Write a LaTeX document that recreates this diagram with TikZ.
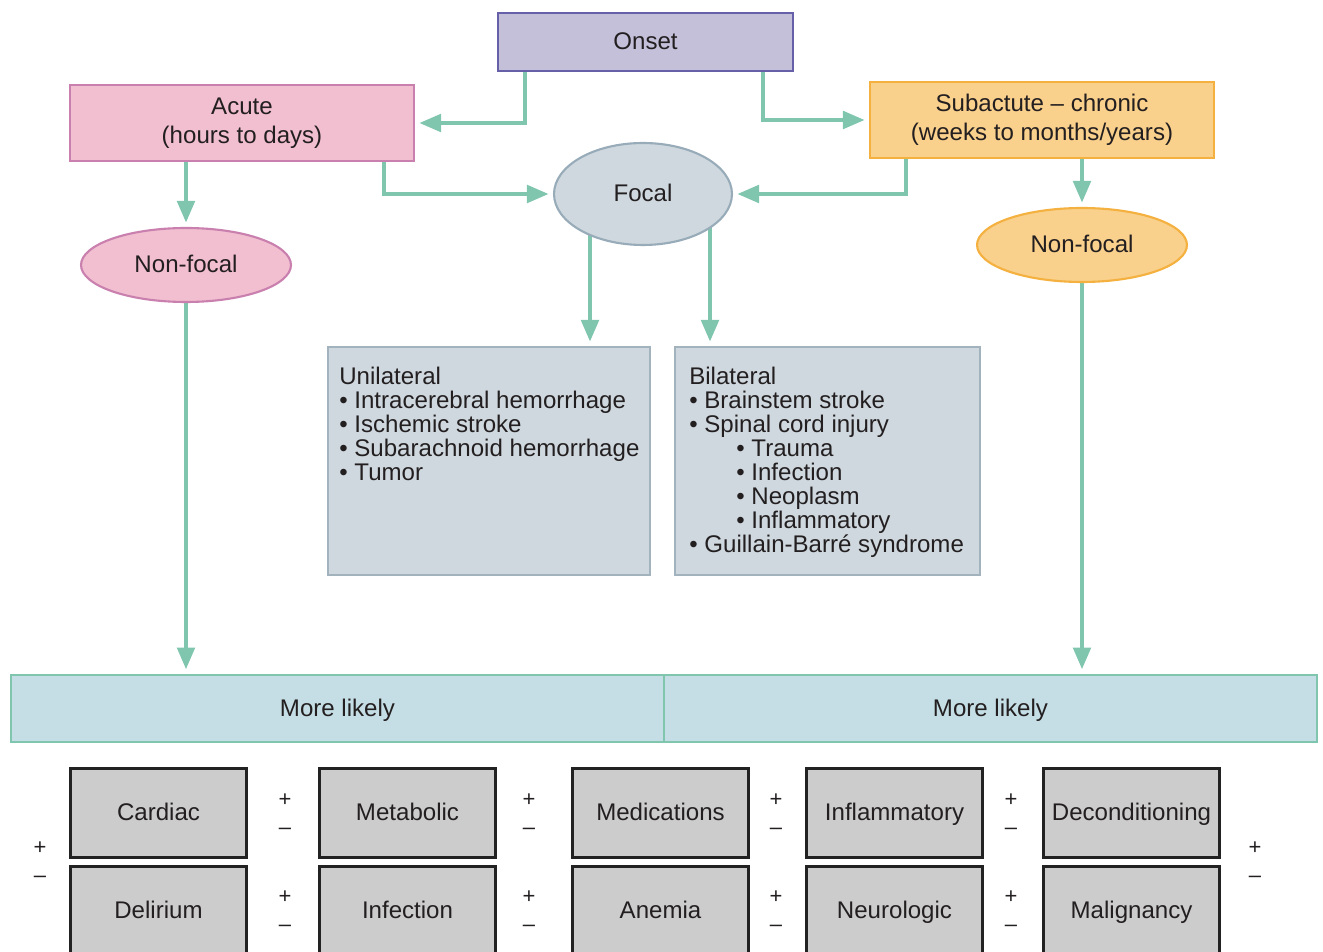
\documentclass[tikz,border=0pt]{standalone}
\usepackage{fontspec}
\setmainfont{Liberation Sans}
\usetikzlibrary{shapes.geometric,arrows.meta,calc,backgrounds}
\definecolor{flowgreen}{HTML}{80C6AF}
\definecolor{inktext}{HTML}{231F20}
\definecolor{onsetfill}{HTML}{C4C0DA}
\definecolor{onsetline}{HTML}{6660A8}
\definecolor{acutefill}{HTML}{F2BFD0}
\definecolor{acuteline}{HTML}{C980AE}
\definecolor{chronfill}{HTML}{F9D08C}
\definecolor{chronline}{HTML}{F4B13F}
\definecolor{focalfill}{HTML}{CFD8DE}
\definecolor{focalline}{HTML}{97ABB9}
\definecolor{listline}{HTML}{A2B3BE}
\definecolor{likelyfill}{HTML}{C5DEE5}
\definecolor{causefill}{HTML}{CCCCCC}
\definecolor{causeline}{HTML}{222222}
\tikzset{
  basic/.style={inner sep=0pt, align=center, text=inktext, font=\fontsize{13.7}{16.4}\selectfont},
  oneline/.style={text height=1.9ex, text depth=0.25ex},
  onsetbox/.style={basic, oneline, draw=onsetline, fill=onsetfill, line width=1.2pt, minimum width=5.9cm, minimum height=1.16cm},
  acutebox/.style={basic, draw=acuteline, fill=acutefill, line width=1.2pt, minimum width=6.88cm, minimum height=1.52cm},
  chronbox/.style={basic, draw=chronline, fill=chronfill, line width=1.2pt, minimum width=6.88cm, minimum height=1.52cm},
  blob/.style={basic, oneline, ellipse, line width=1.2pt, minimum width=4.2cm, minimum height=1.48cm},
  listbox/.style={draw=listline, fill=focalfill, line width=1.2pt, minimum height=4.56cm, inner sep=0pt},
  listtext/.style={basic, align=left, font=\fontsize{13.7}{13.66}\selectfont},
  likely/.style={basic, oneline, draw=flowgreen, fill=likelyfill, line width=1.6pt, minimum width=13.06cm, minimum height=1.34cm},
  cause/.style={basic, oneline, draw=causeline, fill=causefill, line width=1.7pt, minimum width=3.54cm, minimum height=1.8cm},
  pm/.style={basic, font=\fontsize{12.5}{15.9}\selectfont},
  flow/.style={draw=flowgreen, line width=2.8pt, -{Triangle[length=0.44cm,width=0.34cm]}, shorten >=0.08cm},
}

\begin{document}
\begin{tikzpicture}[x=0.02cm, y=-0.02cm]
	% frame
	\useasboundingbox (0,0) rectangle (1323,952);
	\clip (0,0) rectangle (1323,952);

	% onset
	\node[onsetbox] (onset) at (645.5,42) {Onset};
	\node[acutebox] (acute) at (242,123) {Acute\\(hours to days)};
	\node[chronbox] (chron) at (1042,120) {Subactute -- chronic\\(weeks to months/years)};

	% focal / non-focal
	\node[blob, draw=focalline, fill=focalfill, minimum width=3.56cm, minimum height=2.04cm] (focal) at (643,194) {Focal};
	\node[blob, draw=acuteline, fill=acutefill] (nfleft) at (186,265) {Non-focal};
	\node[blob, draw=chronline, fill=chronfill] (nfright) at (1082,245) {Non-focal};

	% lists
	\node[listbox, minimum width=6.44cm] (unil) at (489,461) {};
	\node[listtext, anchor=north west] (uniltext) at ($(unil.north west)+(12,21)$) {Unilateral\\
		\textbullet\ Intracerebral hemorrhage\\
		\textbullet\ Ischemic stroke\\
		\textbullet\ Subarachnoid hemorrhage\\
		\textbullet\ Tumor};
	\node[listbox, minimum width=6.1cm] (bil) at (827.5,461) {};
	\node[listtext, anchor=north west] (biltext) at ($(bil.north west)+(15,21)$) {Bilateral\\
		\textbullet\ Brainstem stroke\\
		\textbullet\ Spinal cord injury\\
		\hspace{0.94cm}\textbullet\ Trauma\\
		\hspace{0.94cm}\textbullet\ Infection\\
		\hspace{0.94cm}\textbullet\ Neoplasm\\
		\hspace{0.94cm}\textbullet\ Inflammatory\\
		\textbullet\ Guillain-Barré syndrome};

	% more likely
	\node[likely] (likelyleft) at (337.5,708.5) {More likely};
	\node[likely] (likelyright) at (990.5,708.5) {More likely};

	% causes
	\node[cause] (cardiac) at (158.5,813) {Cardiac};
	\node[cause] (metabolic) at (407.5,813) {Metabolic};
	\node[cause] (meds) at (660.5,813) {Medications};
	\node[cause] (inflam) at (894.5,813) {Inflammatory};
	\node[cause] (decond) at (1131.5,813) {Deconditioning};
	\node[cause] (delirium) at (158.5,911) {Delirium};
	\node[cause] (infect) at (407.5,911) {Infection};
	\node[cause] (anemia) at (660.5,911) {Anemia};
	\node[cause] (neuro) at (894.5,911) {Neurologic};
	\node[cause] (malig) at (1131.5,911) {Malignancy};

	% plus / minus
	\node[pm] (pmleft) at (40,862) {+\\--};
	\node[pm] (pmright) at (1255,862) {+\\--};
	\node[pm] (pma) at (285,814) {+\\--};
	\node[pm] (pmb) at (529,814) {+\\--};
	\node[pm] (pmc) at (776,814) {+\\--};
	\node[pm] (pmd) at (1011,814) {+\\--};
	\node[pm] (pme) at (285,911) {+\\--};
	\node[pm] (pmf) at (529,911) {+\\--};
	\node[pm] (pmg) at (776,911) {+\\--};
	\node[pm] (pmh) at (1011,911) {+\\--};

	% arrows
	\coordinate (fl) at ($(focal.center)+(-53,0)$);
	\coordinate (fr) at ($(focal.center)+(67,0)$);
	\begin{scope}[on background layer]
	\draw[flow] ($(onset.south)+(-120.5,0)$) |- (acute.east);
	\draw[flow] ($(onset.south)+(117.5,0)$) |- (chron.west);
	\draw[flow] (acute.south -| nfleft.north) -- (nfleft.north);
	\draw[flow] ($(acute.south)+(142,0)$) |- (focal.west);
	\draw[flow] ($(chron.south)+(-136,0)$) |- (focal.east);
	\draw[flow] (chron.south -| nfright.north) -- (nfright.north);
	\draw[flow] (fl) -- (fl |- unil.north);
	\draw[flow] (fr) -- (fr |- bil.north);
	\draw[flow] (nfleft.south) -- (nfleft.south |- likelyleft.north);
	\draw[flow] (nfright.south) -- (nfright.south |- likelyright.north);
	\end{scope}
\end{tikzpicture}
\end{document}
